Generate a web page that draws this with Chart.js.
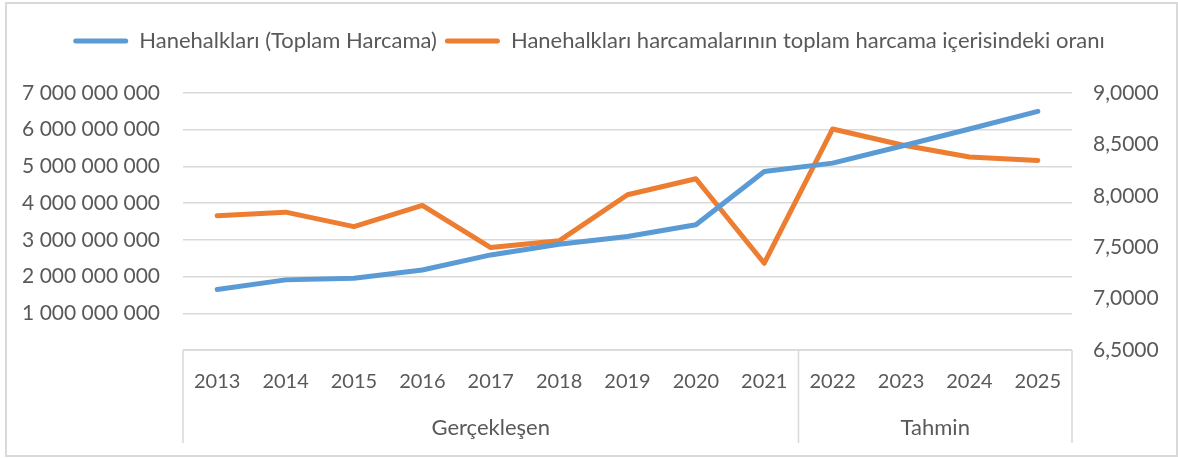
<!DOCTYPE html>
<html>
<head>
<meta charset="utf-8">
<script src="https://cdn.jsdelivr.net/npm/chart.js@4.4.0/dist/chart.umd.min.js"></script>
<style>
  html, body { margin: 0; padding: 0; background: #fff; }
  #wrap { width: 1178px; height: 458px; position: relative; }
</style>
</head>
<body>
<div id="wrap"><canvas id="chart" width="1178" height="458"></canvas></div>
<script>
// veriler
const years = ['2013', '2014', '2015', '2016', '2017', '2018', '2019', '2020', '2021', '2022', '2023', '2024', '2025'];
const groupNames = ['Gerçekleşen', 'Tahmin'];
const groupSizes = [9, 4];

const totalSpending = [1650000000, 1910000000, 1955000000, 2180000000, 2590000000, 2880000000, 3090000000,
    3410000000, 4860000000, 5090000000, 5550000000, 6020000000, 6500000000];
const shareRatio = [7.805, 7.841, 7.70, 7.906, 7.497, 7.562, 8.01, 8.166, 7.344, 8.65, 8.497, 8.377, 8.344];

const seriesNames = ['Hanehalkları (Toplam Harcama)', 'Hanehalkları harcamalarının toplam harcama içerisindeki oranı'];

const FONT = 'Lato, "Open Sans", sans-serif';
const NARROW = '"Liberation Sans Narrow", Lato, sans-serif';
const GRID = '#d9d9d9';
const TEXT = '#595959';

// çerçeve, kategori kutusu ve grup etiketleri
const decorPlugin = {
    id: 'decor',
    beforeInit(chart) {
        const fit = chart.legend.fit;
        chart.legend.fit = function() {
            fit.bind(chart.legend)();
            this.height += 31;
        };
    },
    afterDraw(chart) {
        const ctx = chart.ctx;
        const x = chart.scales.x;
        const top = x.top;
        const bottom = 443;
        const step = x.width / years.length;
        ctx.save();
        ctx.strokeStyle = GRID;
        ctx.lineWidth = 1.5;
        ctx.beginPath();
        ctx.moveTo(x.left, top);
        ctx.lineTo(x.right, top);
        let idx = 0;
        ctx.moveTo(x.left, top);
        ctx.lineTo(x.left, bottom);
        groupSizes.forEach(n => {
            idx += n;
            const px = x.left + step * idx;
            ctx.moveTo(px, top);
            ctx.lineTo(px, bottom);
        });
        ctx.stroke();

        ctx.fillStyle = TEXT;
        ctx.font = '22px ' + FONT;
        ctx.textAlign = 'center';
        ctx.textBaseline = 'middle';
        idx = 0;
        groupSizes.forEach((n, i) => {
            const cx = x.left + step * (idx + n / 2);
            ctx.fillText(groupNames[i], cx, 428);
            idx += n;
        });

        // dış çerçeve
        ctx.lineWidth = 2;
        ctx.strokeRect(6, 3, 1171, 453);
        ctx.restore();
    }
};

new Chart(document.getElementById('chart'), {
    type: 'line',
    data: {
        labels: years,
        datasets: [{
            label: seriesNames[0],
            data: totalSpending,
            yAxisID: 'y',
            borderColor: '#5B9BD5',
            backgroundColor: '#5B9BD5',
            borderWidth: 5,
            pointRadius: 0,
            borderCapStyle: 'round',
            borderJoinStyle: 'round',
            tension: 0
        }, {
            label: seriesNames[1],
            data: shareRatio,
            yAxisID: 'y1',
            borderColor: '#ED7D31',
            backgroundColor: '#ED7D31',
            borderWidth: 5,
            pointRadius: 0,
            borderCapStyle: 'round',
            borderJoinStyle: 'round',
            tension: 0
        }]
    },
    options: {
        responsive: false,
        animation: false,
        layout: { padding: { top: 22, left: 0, right: 0, bottom: 13 } },
        plugins: {
            legend: {
                position: 'top',
                labels: {
                    font: { family: FONT, size: 22 },
                    color: TEXT,
                    boxWidth: 55,
                    boxHeight: 5,
                    padding: 8,
                    useBorderRadius: true,
                    borderRadius: 2.5,
                    generateLabels(chart) {
                        return Chart.defaults.plugins.legend.labels.generateLabels(chart).map(l => {
                            l.lineWidth = 0;
                            return l;
                        });
                    }
                }
            },
            tooltip: { enabled: false }
        },
        scales: {
            x: {
                offset: true,
                grid: { display: false, drawTicks: false },
                border: { display: false },
                ticks: { font: { family: NARROW, size: 20 }, color: TEXT, padding: 20, maxRotation: 0, autoSkip: false },
                afterFit(scale) { scale.height = 95; }
            },
            y: {
                position: 'left',
                min: 0,
                max: 7000000000,
                grid: { color: GRID, lineWidth: 1.5, drawTicks: false },
                border: { display: false },
                ticks: {
                    stepSize: 1000000000,
                    font: { family: FONT, size: 21 },
                    color: TEXT,
                    padding: 23,
                    callback: v => v === 0 ? '' : v.toLocaleString('en-US').replace(/,/g, ' ')
                },
                afterFit(scale) { scale.width = 183; }
            },
            y1: {
                position: 'right',
                min: 6.5,
                max: 9,
                grid: { display: false, drawTicks: false },
                border: { display: false },
                ticks: {
                    stepSize: 0.5,
                    font: { family: FONT, size: 21 },
                    color: TEXT,
                    padding: 21,
                    callback: v => v.toFixed(4).replace('.', ',')
                },
                afterFit(scale) { scale.width = 106; }
            }
        }
    },
    plugins: [decorPlugin]
});
</script>
</body>
</html>
